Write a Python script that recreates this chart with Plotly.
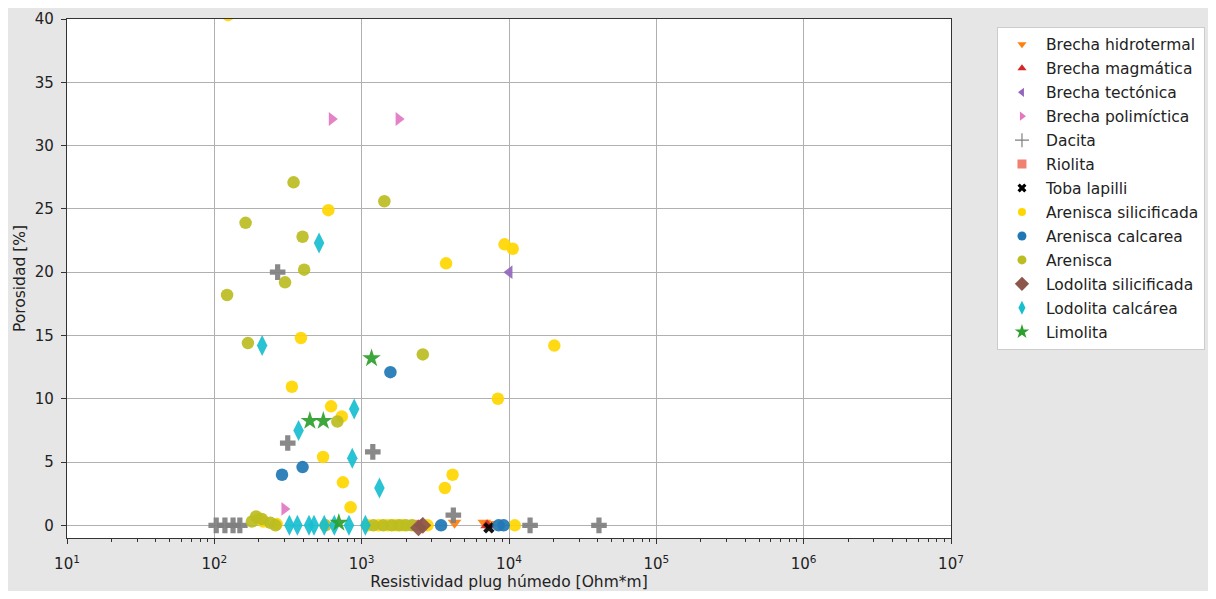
import plotly.graph_objects as go

# ---------------- data ----------------
litologias = ["Brecha hidrotermal", "Brecha magmática", "Brecha tectónica",
              "Brecha polimíctica", "Dacita", "Riolita", "Toba lapilli",
              "Arenisca silicificada", "Arenisca calcarea", "Arenisca",
              "Lodolita silicificada", "Lodolita calcárea", "Limolita"]

hidrotermal_x = [4270, 6800, 7300]
hidrotermal_y = [0.2, 0.2, 0.1]

magmatica_x = [7100]
magmatica_y = [0.0]

tectonica_x = [10070, 2500]
tectonica_y = [20.0, 0.1]

polimictica_x = [627, 1782, 299]
polimictica_y = [32.1, 32.1, 1.3]

dacita_x = [103, 118, 134, 149, 269, 315, 1190, 4190, 13900, 40800]
dacita_y = [0.0, 0.0, 0.0, 0.0, 20.0, 6.5, 5.8, 0.8, 0.0, 0.0]

riolita_x = [2300]
riolita_y = [0.0]

toba_x = [7300]
toba_y = [-0.2]

are_sil_x = [124, 594, 9330, 10600, 3740, 387, 20300, 336, 8410, 620, 733,
             547, 4140, 746, 3670, 841, 200, 215, 265, 1100, 1300, 1500,
             1700, 1900, 2800, 10950]
are_sil_y = [40.3, 24.9, 22.2, 21.85, 20.7, 14.8, 14.2, 10.95, 10.0, 9.4, 8.6,
             5.4, 4.0, 3.4, 2.95, 1.43, 0.5, 0.3, 0.1, 0.0, 0.0, 0.0,
             0.0, 0.0, 0.0, 0.0]

are_cal_x = [1567, 397, 288, 3460, 8500, 9200]
are_cal_y = [12.1, 4.6, 4.0, 0.0, 0.0, 0.0]

arenisca_x = [345, 1426, 163, 397, 407, 302, 122, 169, 2600, 684,
              192, 210, 180, 240, 260, 568, 1200, 1400, 1600, 1800, 2000, 2200]
arenisca_y = [27.1, 25.6, 23.9, 22.8, 20.2, 19.2, 18.2, 14.4, 13.5, 8.2,
              0.7, 0.5, 0.3, 0.2, 0.0, 0.0, 0.0, 0.0, 0.0, 0.0, 0.0, 0.0]

lod_sil_x = [2430, 2600]
lod_sil_y = [-0.2, 0.0]

lod_cal_x = [514, 211, 890, 373, 863, 1320, 323, 366, 439, 475, 557, 652, 820, 1060]
lod_cal_y = [22.3, 14.2, 9.2, 7.5, 5.3, 2.95, 0.0, 0.0, 0.0, 0.0, 0.0, 0.0, 0.0, 0.0]

limolita_x = [1167, 445, 549, 700]
limolita_y = [13.2, 8.25, 8.25, 0.2]

xs = [hidrotermal_x, magmatica_x, tectonica_x, polimictica_x, dacita_x, riolita_x,
      toba_x, are_sil_x, are_cal_x, arenisca_x, lod_sil_x, lod_cal_x, limolita_x]
ys = [hidrotermal_y, magmatica_y, tectonica_y, polimictica_y, dacita_y, riolita_y,
      toba_y, are_sil_y, are_cal_y, arenisca_y, lod_sil_y, lod_cal_y, limolita_y]

x_tick_vals = [1e1, 1e2, 1e3, 1e4, 1e5, 1e6, 1e7]
x_tick_text = ["10<sup>1</sup>", "10<sup>2</sup>", "10<sup>3</sup>", "10<sup>4</sup>",
               "10<sup>5</sup>", "10<sup>6</sup>", "10<sup>7</sup>"]
y_tick_vals = [0, 5, 10, 15, 20, 25, 30, 35, 40]

# ---------------- styles ----------------
colors = ["#ff7f0e", "#d62728", "#9467bd", "#e377c2", "#7f7f7f", "#f08070",
          "#000000", "#ffd700", "#1f77b4", "#bcbd22", "#8c564b", "#17becf", "#2ca02c"]
symbols = ["triangle-down", "triangle-up", "triangle-left", "triangle-right", "cross",
           "square", "x", "circle", "circle", "circle", "diamond", "diamond-tall", "star"]
sizes = [12, 12, 12, 12, 13, 11, 10, 12.5, 12.5, 12.5, 13, 15, 14]
leg_symbols = ["triangle-down", "triangle-up", "triangle-left", "triangle-right",
               "cross-thin", "square", "x", "circle", "circle", "circle",
               "diamond", "diamond-tall", "star"]
leg_sizes = [8, 8, 8, 8, 10, 9, 8, 8, 9, 9, 11, 10, 11]

FONT = "DejaVu Sans"
fig = go.Figure()

for name, x, y, c, s, sz in zip(litologias, xs, ys, colors, symbols, sizes):
    fig.add_trace(go.Scatter(
        x=x, y=y, mode="markers", name=name, showlegend=False,
        legendgroup=name,
        marker=dict(symbol=s, size=sz, color=c, opacity=0.92,
                    line=dict(width=0)),
        cliponaxis=True))

for name, c, s, sz in zip(litologias, colors, leg_symbols, leg_sizes):
    line = dict(width=1.2, color=c) if s == "cross-thin" else dict(width=0)
    fig.add_trace(go.Scatter(
        x=[None], y=[None], mode="markers", name=name, showlegend=True,
        legendgroup=name,
        marker=dict(symbol=s, size=sz, color=c, line=line)))

minor_vals = [k * 10 ** d for d in range(1, 7) for k in range(2, 10)]

fig.update_layout(
    width=1204, height=583,
    paper_bgcolor="#e6e6e6", plot_bgcolor="white",
    margin=dict(l=59, r=261, t=11, b=53, autoexpand=False),
    font=dict(family=FONT, size=15, color="#222222"),
    showlegend=True,
    legend=dict(x=1.052, y=0.985, xanchor="left", yanchor="top",
                bgcolor="white", bordercolor="#cccccc", borderwidth=1,
                font=dict(family=FONT, size=15.5, color="#222222"),
                itemsizing="trace", itemwidth=38, tracegroupgap=0.8),
    xaxis=dict(type="log", range=[1, 7], tickmode="array", automargin=False,
               tickvals=x_tick_vals, ticktext=x_tick_text,
               showgrid=True, gridcolor="#b0b0b0", gridwidth=1,
               showline=True, linecolor="#333333", linewidth=1.2, mirror=True,
               ticks="outside", ticklen=5, tickcolor="#333333",
               ticklabelstandoff=7, tickfont=dict(size=15),
               minor=dict(tickmode="array", tickvals=minor_vals, ticks="outside",
                          ticklen=2.5, tickcolor="#333333", showgrid=False),
               zeroline=False,
               title=dict(text="Resistividad plug húmedo [Ohm*m]",
                          font=dict(family=FONT, size=15.5), standoff=4)),
    yaxis=dict(range=[-1, 40], tickmode="array", tickvals=y_tick_vals,
               automargin=False,
               showgrid=True, gridcolor="#b0b0b0", gridwidth=1,
               showline=True, linecolor="#333333", linewidth=1.2, mirror=True,
               ticks="outside", ticklen=5, tickcolor="#333333",
               ticklabelstandoff=4, tickfont=dict(size=15),
               zeroline=False,
               title=dict(text="Porosidad [%]",
                          font=dict(family=FONT, size=15.5), standoff=5)),
)

fig.write_html("out.html")
